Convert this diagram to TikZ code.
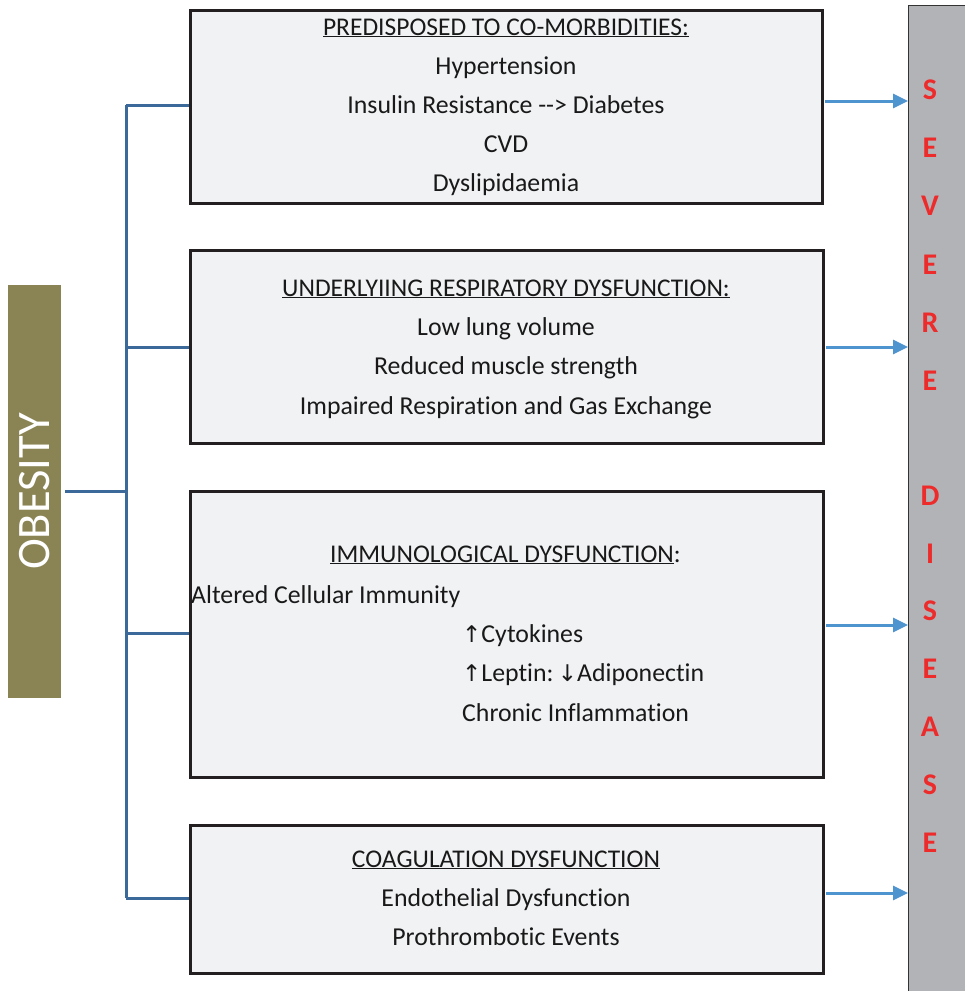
\documentclass[tikz,border=0pt]{standalone}
\usepackage{fontspec}
\setmainfont{Carlito}[Ligatures={NoCommon}]
\newfontfamily\arrowfont{DejaVu Sans}
\usetikzlibrary{arrows.meta}
\definecolor{olive}{HTML}{8A8455}
\definecolor{treeblue}{HTML}{3B6A9A}
\definecolor{arrblue}{HTML}{4E94CE}
\definecolor{boxfill}{HTML}{F1F2F4}
\definecolor{bargray}{HTML}{B2B3B7}
\definecolor{sevred}{HTML}{ED2B2B}
\definecolor{boxline}{HTML}{231F20}
\newcommand{\arrsym}[1]{{\arrowfont\fontsize{23}{25}\selectfont #1}}
\begin{document}
\begin{tikzpicture}[x=1pt,y=-1pt,
  box/.style={draw=boxline,line width=3pt,fill=boxfill,rectangle,inner sep=0pt},
  txt/.style={anchor=base,inner sep=0pt,text=black!90,font=\fontsize{25.8}{30}\selectfont},
  ttl/.style={txt,font=\fontsize{25.5}{30}\selectfont},
  ltxt/.style={txt,anchor=base west},
  tree/.style={draw=treeblue,line width=3pt},
  arr/.style={draw=arrblue,line width=3pt,-{Triangle[length=15pt,width=14pt]}},
  sev/.style={text=sevred,font=\fontsize{30}{32}\selectfont\bfseries,inner sep=0pt}
]
\useasboundingbox (0,0) rectangle (965,991);
% right bar
\node[draw=black!80,line width=0.8pt,fill=bargray,minimum width=57pt,minimum height=988pt,anchor=north west,inner sep=0pt] (bar) at (908,5) {};
% obesity
\node[fill=olive,minimum width=53pt,minimum height=413pt,inner sep=0pt] (ob) at (34.5,491.5) {};
\node[rotate=90,text=white,font=\fontsize{46.5}{50}\selectfont,inner sep=0pt] (obt) at (ob.center) {OBESITY};
% boxes
\node[box,minimum width=632pt,minimum height=193pt] (b1) at (506,106.5) {};
\node[box,minimum width=633pt,minimum height=193pt] (b2) at (506.5,346.5) {};
\node[box,minimum width=633pt,minimum height=286pt] (b3) at (506.5,634) {};
\node[box,minimum width=633pt,minimum height=148pt] (b4) at (506.5,899) {};
% box 1 text
\node[ttl] (t1) at (506,35) {\underline{PREDISPOSED TO CO-MORBIDITIES:}};
\node[txt] (t1a) at (506,74) {Hypertension};
\node[txt] (t1b) at (506,113) {Insulin Resistance -{}-> Diabetes};
\node[txt] (t1c) at (506,152) {CVD};
\node[txt] (t1d) at (506,191) {Dyslipidaemia};
% box 2 text
\node[ttl] (t2) at (506,296) {\underline{UNDERLYIING RESPIRATORY DYSFUNCTION:}};
\node[txt] (t2a) at (506,335) {Low lung volume};
\node[txt] (t2b) at (506,374) {Reduced muscle strength};
\node[txt] (t2c) at (506,414) {Impaired Respiration and Gas Exchange};
% box 3 text
\node[ttl,anchor=base west] (t3) at (330,562) {\underline{IMMUNOLOGICAL DYSFUNCTION}:};
\node[ltxt] (t3a) at (191,603) {Altered Cellular Immunity};
\node[ltxt] (t3b) at (462,642) {\arrsym{↑}Cytokines};
\node[ltxt] (t3c) at (462,681) {\arrsym{↑}Leptin:\,\arrsym{↓}Adiponectin};
\node[ltxt] (t3d) at (462,721) {Chronic Inflammation};
% box 4 text
\node[ttl] (t4) at (506,867) {\underline{COAGULATION DYSFUNCTION}};
\node[txt] (t4a) at (506,906) {Endothelial Dysfunction};
\node[txt] (t4b) at (506,945) {Prothrombotic Events};
% tree
\coordinate (j) at (126,491);
\coordinate (jt) at (126,105);
\coordinate (jb) at (126,898);
\draw[tree] (ob.east |- j) ++(4,0) -- (j);
\draw[tree] (jt) -- (jb);
\draw[tree] (jt) -- (b1.west |- jt);
\draw[tree] (126,347) coordinate (j2) -- (b2.west |- j2);
\draw[tree] (126,633) coordinate (j3) -- (b3.west |- j3);
\draw[tree] (jb) -- (b4.west |- jb);
% arrows
\draw[arr] (b1.east |- 0,101) ++(1.5,0) -- (bar.west |- 0,101);
\draw[arr] (b2.east |- 0,347) ++(1.5,0) -- (bar.west |- 0,347);
\draw[arr] (b3.east |- 0,625) ++(1.5,0) -- (bar.west |- 0,625);
\draw[arr] (b4.east |- 0,893) ++(1.5,0) -- (bar.west |- 0,893);
% severe disease letters
\foreach \l/\y [count=\i] in {S/90,E/148,V/206,E/265,R/323,E/381,D/496,I/554,S/611,E/669,A/727,S/785,E/843}
  \node[sev] (s\i) at (930,\y) {\l};
\end{tikzpicture}
\end{document}
